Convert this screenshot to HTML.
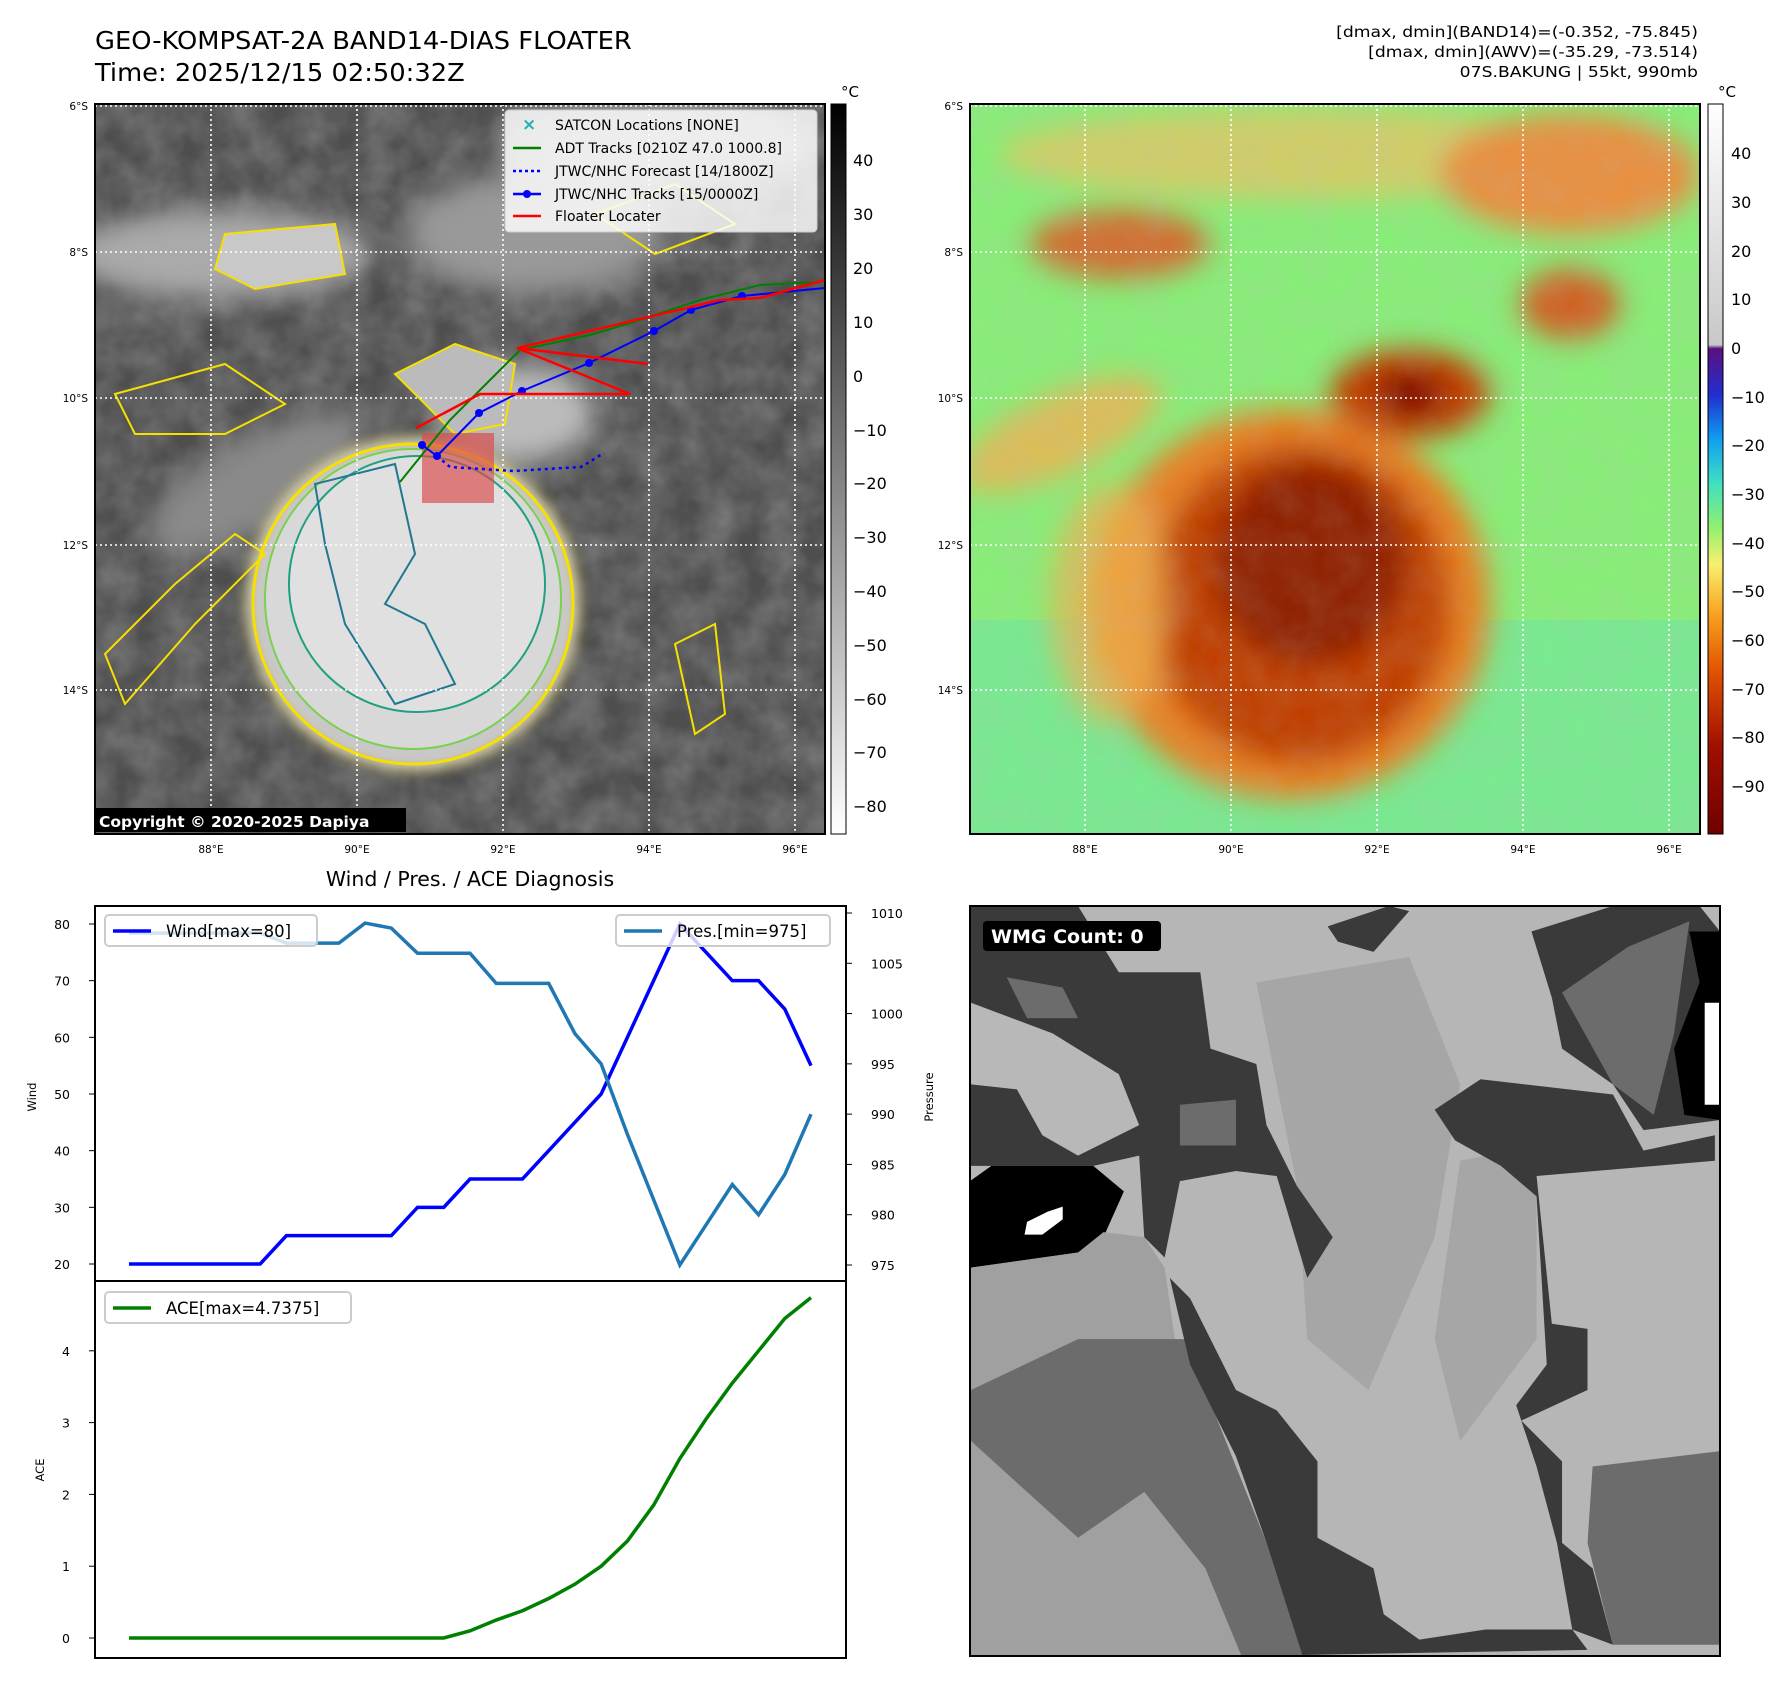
<!DOCTYPE html>
<html><head><meta charset="utf-8">
<style>
html,body{margin:0;padding:0;background:#fff;}
body{width:1788px;height:1693px;position:relative;overflow:hidden;font-family:"DejaVu Sans","Liberation Sans",sans-serif;}
svg text{font-family:"DejaVu Sans","Liberation Sans",sans-serif;}
.t{position:absolute;white-space:nowrap;color:#000;}
</style></head><body>
<div class="t" style="left:95px;top:25px;font-size:25px;line-height:32px;transform:scaleX(1.03);transform-origin:left top;">GEO-KOMPSAT-2A BAND14-DIAS FLOATER<br>Time: 2025/12/15 02:50:32Z</div>
<div class="t" style="right:90px;top:22px;font-size:15.5px;line-height:20px;text-align:right;transform:scaleX(1.11);transform-origin:right top;">[dmax, dmin](BAND14)=(-0.352, -75.845)<br>[dmax, dmin](AWV)=(-35.29, -73.514)<br>07S.BAKUNG | 55kt, 990mb</div>

<svg width="1788" height="1693" style="position:absolute;left:0;top:0" xmlns="http://www.w3.org/2000/svg">
<defs>
<filter id="bl" x="-30%" y="-30%" width="160%" height="160%"><feGaussianBlur stdDeviation="14"/></filter>
<filter id="bl2" x="-30%" y="-30%" width="160%" height="160%"><feGaussianBlur stdDeviation="6"/></filter>
<filter id="tx"><feTurbulence type="fractalNoise" baseFrequency="0.03" numOctaves="3" seed="4"/><feColorMatrix type="matrix" values="0 0 0 0 0.5  0 0 0 0 0.5  0 0 0 0 0.5  0 0 0 0.9 -0.2"/></filter>
<linearGradient id="cbg" x1="0" y1="0" x2="0" y2="1"><stop offset="0" stop-color="#000"/><stop offset="1" stop-color="#fff"/></linearGradient>
<linearGradient id="cbc" x1="0" y1="0" x2="0" y2="1">
<stop offset="0" stop-color="#fff"/><stop offset="0.33" stop-color="#c8c8c8"/><stop offset="0.335" stop-color="#5a1080"/>
<stop offset="0.40" stop-color="#2030d0"/><stop offset="0.46" stop-color="#10a0f0"/><stop offset="0.52" stop-color="#40e0c0"/>
<stop offset="0.58" stop-color="#90f070"/><stop offset="0.63" stop-color="#f8f070"/><stop offset="0.70" stop-color="#f8a020"/>
<stop offset="0.78" stop-color="#e05000"/><stop offset="0.88" stop-color="#a01000"/><stop offset="1" stop-color="#700000"/></linearGradient>
<clipPath id="c1"><rect x="95" y="104" width="730" height="730"/></clipPath>
<clipPath id="c2"><rect x="970" y="104" width="730" height="730"/></clipPath>
<clipPath id="c3"><rect x="970" y="906" width="750" height="750"/></clipPath>
</defs>

<!-- LEFT MAP -->
<g clip-path="url(#c1)">
<rect x="95" y="104" width="730" height="730" fill="#4e4e4e"/>
<rect x="95" y="104" width="730" height="730" filter="url(#tx)" opacity="0.6"/>
<g transform="translate(95,104)" filter="url(#bl)">
<ellipse cx="125" cy="150" rx="150" ry="45" fill="#aaa"/>
<ellipse cx="440" cy="130" rx="130" ry="60" fill="#999"/>
<ellipse cx="560" cy="40" rx="160" ry="50" fill="#999"/>
<ellipse cx="160" cy="380" rx="120" ry="45" fill="#8a8a8a" transform="rotate(-30 160 380)"/>
<ellipse cx="420" cy="310" rx="80" ry="50" fill="#bbb"/>
</g>
<g transform="translate(95,104)">
<ellipse cx="318" cy="500" rx="165" ry="165" fill="#c8c8c8" stroke="#f5e000" stroke-width="3" filter="url(#bl2)"/>
<ellipse cx="318" cy="500" rx="160" ry="160" fill="none" stroke="#f5e000" stroke-width="3"/>
<ellipse cx="318" cy="495" rx="148" ry="150" fill="#d8d8d8" stroke="#7ad050" stroke-width="2"/>
<ellipse cx="322" cy="480" rx="128" ry="128" fill="#e0e0e0" stroke="#20a080" stroke-width="2"/>
<path d="M220,380 L300,360 L320,450 L290,500 L330,520 L360,580 L300,600 L250,520 L230,440Z" fill="none" stroke="#207890" stroke-width="2"/>
<path d="M130,130 L240,120 L250,170 L160,185 L120,165Z" fill="#c8c8c8" stroke="#f5e000" stroke-width="2"/>
<path d="M10,550 L80,480 L140,430 L170,450 L100,520 L30,600Z" fill="none" stroke="#f5e000" stroke-width="2"/>
<path d="M20,290 L130,260 L190,300 L130,330 L40,330Z" fill="none" stroke="#f5e000" stroke-width="2"/>
<path d="M300,270 L360,240 L420,260 L410,320 L360,330Z" fill="#bbb" stroke="#f5e000" stroke-width="2"/>
<path d="M500,110 L580,80 L640,120 L560,150Z" fill="none" stroke="#f5e000" stroke-width="2"/>
<path d="M580,540 L620,520 L630,610 L600,630Z" fill="none" stroke="#f5e000" stroke-width="2"/>
</g>
<g stroke="#fff" stroke-width="1.6" stroke-dasharray="2,3" fill="none">
<line x1="95" y1="106" x2="825" y2="106"/><line x1="95" y1="252" x2="825" y2="252"/><line x1="95" y1="398" x2="825" y2="398"/><line x1="95" y1="545" x2="825" y2="545"/><line x1="95" y1="690" x2="825" y2="690"/>
<line x1="211" y1="104" x2="211" y2="834"/><line x1="357" y1="104" x2="357" y2="834"/><line x1="503" y1="104" x2="503" y2="834"/><line x1="649" y1="104" x2="649" y2="834"/><line x1="795" y1="104" x2="795" y2="834"/>
</g>
<rect x="422" y="433" width="72" height="70" fill="rgba(220,70,70,0.65)"/>
<polyline points="400,482 450,420 520,350 590,335 640,320 700,300 760,285 820,282" fill="none" stroke="#008000" stroke-width="2"/>
<polyline points="437,456 450,467 513,471 581,467 604,453" fill="none" stroke="#0000ff" stroke-width="2.5" stroke-dasharray="3,4"/>
<polyline points="422,445 437,456 479,413 522,391 589,363 654,331 691,310 742,296 825,288" fill="none" stroke="#0000ff" stroke-width="2"/>
<g fill="#0000ff"><circle cx="422" cy="445" r="4"/><circle cx="437" cy="456" r="4"/><circle cx="479" cy="413" r="4"/><circle cx="522" cy="391" r="4"/><circle cx="589" cy="363" r="4"/><circle cx="654" cy="331" r="4"/><circle cx="691" cy="310" r="4"/><circle cx="742" cy="296" r="4"/></g>
<polyline points="416,428 480,394 630,394 517,348 648,364 518,348 720,300 760,298 825,280" fill="none" stroke="#ff0000" stroke-width="2.5"/>
</g>
<rect x="95" y="104" width="730" height="730" fill="none" stroke="#000" stroke-width="2"/>
<g>
<rect x="505" y="110" width="312" height="122" rx="4" fill="rgba(255,255,255,0.82)" stroke="#ccc"/>
<text x="522" y="130" font-size="17" fill="#20b0b0" font-weight="bold">×</text>
<line x1="513" y1="148" x2="541" y2="148" stroke="#008000" stroke-width="2.5"/>
<line x1="513" y1="171" x2="541" y2="171" stroke="#0000ff" stroke-width="2.5" stroke-dasharray="3,3"/>
<line x1="513" y1="194" x2="541" y2="194" stroke="#0000ff" stroke-width="2.5"/><circle cx="527" cy="194" r="4" fill="#0000ff"/>
<line x1="513" y1="216" x2="541" y2="216" stroke="#ff0000" stroke-width="2.5"/>
<g font-size="14" fill="#000">
<text x="555" y="130">SATCON Locations [NONE]</text>
<text x="555" y="153">ADT Tracks [0210Z 47.0 1000.8]</text>
<text x="555" y="176">JTWC/NHC Forecast [14/1800Z]</text>
<text x="555" y="199">JTWC/NHC Tracks [15/0000Z]</text>
<text x="555" y="221">Floater Locater</text></g>
</g>
<rect x="95" y="808" width="311" height="24" fill="#000"/>
<text x="99" y="827" font-size="15.5" font-weight="bold" fill="#fff">Copyright © 2020-2025 Dapiya</text>
<g font-size="10.5" fill="#000">
<text x="88" y="110" text-anchor="end">6°S</text><text x="88" y="256" text-anchor="end">8°S</text><text x="88" y="402" text-anchor="end">10°S</text><text x="88" y="549" text-anchor="end">12°S</text><text x="88" y="694" text-anchor="end">14°S</text>
<text x="211" y="853" text-anchor="middle">88°E</text><text x="357" y="853" text-anchor="middle">90°E</text><text x="503" y="853" text-anchor="middle">92°E</text><text x="649" y="853" text-anchor="middle">94°E</text><text x="795" y="853" text-anchor="middle">96°E</text>
</g>
<rect x="831" y="104" width="15" height="730" fill="url(#cbg)" stroke="#000"/>
<text x="850" y="97" font-size="15" text-anchor="middle">°C</text>
<g font-size="16" fill="#000">
<text x="853" y="166">40</text><text x="853" y="220">30</text><text x="853" y="274">20</text><text x="853" y="328">10</text><text x="853" y="382">0</text><text x="853" y="436">−10</text><text x="853" y="489">−20</text><text x="853" y="543">−30</text><text x="853" y="597">−40</text><text x="853" y="651">−50</text><text x="853" y="705">−60</text><text x="853" y="758">−70</text><text x="853" y="812">−80</text>
</g>

<!-- RIGHT MAP -->
<g clip-path="url(#c2)">
<rect x="970" y="104" width="730" height="730" fill="#88ee78"/>
<rect x="970" y="620" width="730" height="214" fill="#70e8a0" opacity="0.6"/>
<g transform="translate(970,104)" filter="url(#bl)">
<ellipse cx="330" cy="50" rx="300" ry="45" fill="#f0c060" opacity="0.7"/>
<ellipse cx="600" cy="70" rx="130" ry="60" fill="#e89040"/>
<ellipse cx="150" cy="140" rx="90" ry="35" fill="#d07030"/>
<ellipse cx="90" cy="330" rx="110" ry="40" fill="#f0b050" opacity="0.8" transform="rotate(-25 90 330)"/>
<ellipse cx="320" cy="500" rx="200" ry="195" fill="#e88020"/>
<ellipse cx="330" cy="500" rx="150" ry="160" fill="#c04000"/>
<ellipse cx="340" cy="460" rx="95" ry="100" fill="#902000"/>
<ellipse cx="440" cy="290" rx="80" ry="45" fill="#c04000"/>
<ellipse cx="440" cy="290" rx="35" ry="22" fill="#801000"/>
<ellipse cx="600" cy="200" rx="50" ry="35" fill="#d06020"/>
<ellipse cx="140" cy="500" rx="60" ry="120" fill="#f0b050" opacity="0.7"/>
</g>
<rect x="970" y="104" width="730" height="730" filter="url(#tx)" opacity="0.25"/>
<g stroke="#fff" stroke-width="1.6" stroke-dasharray="2,3" fill="none">
<line x1="970" y1="106" x2="1700" y2="106"/><line x1="970" y1="252" x2="1700" y2="252"/><line x1="970" y1="398" x2="1700" y2="398"/><line x1="970" y1="545" x2="1700" y2="545"/><line x1="970" y1="690" x2="1700" y2="690"/>
<line x1="1085" y1="104" x2="1085" y2="834"/><line x1="1231" y1="104" x2="1231" y2="834"/><line x1="1377" y1="104" x2="1377" y2="834"/><line x1="1523" y1="104" x2="1523" y2="834"/><line x1="1669" y1="104" x2="1669" y2="834"/>
</g>
</g>
<rect x="970" y="104" width="730" height="730" fill="none" stroke="#000" stroke-width="2"/>
<g font-size="10.5" fill="#000">
<text x="963" y="110" text-anchor="end">6°S</text><text x="963" y="256" text-anchor="end">8°S</text><text x="963" y="402" text-anchor="end">10°S</text><text x="963" y="549" text-anchor="end">12°S</text><text x="963" y="694" text-anchor="end">14°S</text>
<text x="1085" y="853" text-anchor="middle">88°E</text><text x="1231" y="853" text-anchor="middle">90°E</text><text x="1377" y="853" text-anchor="middle">92°E</text><text x="1523" y="853" text-anchor="middle">94°E</text><text x="1669" y="853" text-anchor="middle">96°E</text>
</g>
<rect x="1708" y="104" width="15" height="730" fill="url(#cbc)" stroke="#000"/>
<text x="1727" y="97" font-size="15" text-anchor="middle">°C</text>
<g font-size="16" fill="#000">
<text x="1731" y="159">40</text><text x="1731" y="208">30</text><text x="1731" y="257">20</text><text x="1731" y="305">10</text><text x="1731" y="354">0</text><text x="1731" y="403">−10</text><text x="1731" y="451">−20</text><text x="1731" y="500">−30</text><text x="1731" y="549">−40</text><text x="1731" y="597">−50</text><text x="1731" y="646">−60</text><text x="1731" y="695">−70</text><text x="1731" y="743">−80</text><text x="1731" y="792">−90</text>
</g>

<!-- WMG PANEL -->
<g clip-path="url(#c3)">
<g transform="translate(970,906) scale(0.5095) translate(-38,-50)">
<rect x="38" y="50" width="1472" height="1472" fill="#b6b6b6"/>
<polygon fill="#a6a6a6" points="600,200 900,150 1000,400 950,700 820,1000 700,900 680,600"/>
<polygon fill="#a6a6a6" points="1000,550 1150,520 1150,900 1000,1100 950,900"/>
<polygon fill="#3a3a3a" points="38,50 250,50 330,180 490,180 510,330 600,360 620,480 680,600 750,700 700,780 640,580 560,570 450,590 420,740 380,700 370,540 280,560 40,560"/>
<polygon fill="#b8b8b8" points="40,240 200,300 330,380 370,480 250,540 180,500 130,410 40,400"/>
<polygon fill="#6c6c6c" points="110,190 220,210 250,270 150,270"/>
<polygon fill="#6c6c6c" points="450,440 560,430 560,520 450,520"/>
<polygon fill="#000" points="38,590 80,560 280,560 340,610 300,700 250,730 38,760"/>
<polygon fill="#fff" points="150,670 190,650 220,640 220,665 180,695 145,695"/>
<polygon fill="#a0a0a0" points="38,760 250,730 300,690 380,700 420,760 440,900 480,1000 560,1150 600,1250 640,1400 690,1520 38,1520"/>
<polygon fill="#6c6c6c" points="40,1000 250,900 460,900 560,1150 620,1300 690,1520 570,1520 500,1350 380,1200 250,1290 150,1200 40,1100"/>
<polygon fill="#3a3a3a" points="430,780 470,820 560,1000 640,1040 720,1140 720,1290 830,1350 850,1440 920,1490 1050,1470 1220,1470 1250,1510 690,1520 620,1300 560,1130 470,950"/>
<polygon fill="#3a3a3a" points="1040,390 1300,420 1360,530 1500,500 1500,550 1150,580 1180,870 1250,880 1250,1000 1120,1060 1200,1140 1200,1300 1260,1350 1300,1500 1220,1470 1190,1300 1150,1150 1110,1030 1170,950 1150,620 1080,560 990,510 950,450"/>
<polygon fill="#3a3a3a" points="1140,100 1300,50 1470,50 1510,100 1510,470 1360,490 1300,400 1200,330 1180,230"/>
<polygon fill="#6c6c6c" points="1200,220 1330,130 1450,80 1420,300 1380,460 1300,400"/>
<polygon fill="#000" points="1450,100 1510,100 1510,470 1440,460 1420,330 1470,200"/>
<polygon fill="#fff" points="1480,240 1510,240 1510,440 1480,440"/>
<polygon fill="#3a3a3a" points="740,90 860,50 900,60 830,140 760,120"/>
<polygon fill="#6c6c6c" points="1260,1150 1510,1120 1510,1500 1300,1500 1250,1300"/>
</g>
</g>
<rect x="970" y="906" width="750" height="750" fill="none" stroke="#000" stroke-width="2"/>
<rect x="983" y="921" width="178" height="30" rx="4" fill="#000"/>
<text x="991" y="943" font-size="19" font-weight="bold" fill="#fff">WMG Count: 0</text>

<!-- CHART -->
<text x="470" y="886" font-size="20.5" text-anchor="middle">Wind / Pres. / ACE Diagnosis</text>
<g id="chart"></g>
</svg>

<script>
const idx = [0,1,2,3,4,5,6,7,8,9,10,11,12,13,14,15,16,17,18,19,20,21,22,23,24,25,26];
const windVals = [20,20,20,20,20,20,25,25,25,25,25,30,30,35,35,35,40,45,50,60,70,80,75,70,70,65,55];
const presVals = [1008,1008,1008,1008,1008,1008,1007,1007,1007,1009,1008.5,1006,1006,1006,1003,1003,1003,998,995,988,981.5,975,979,983,980,984,990];
const aceVals = [0,0,0,0,0,0,0,0,0,0,0,0,0,0.1,0.25,0.38,0.55,0.75,1.0,1.35,1.85,2.5,3.05,3.55,4.0,4.45,4.74];
const windTicks = [20,30,40,50,60,70,80];
const presTicks = [975,980,985,990,995,1000,1005,1010];
const aceTicks = [0,1,2,3,4];

const NS='http://www.w3.org/2000/svg';
const g=document.getElementById('chart');
function mk(tag,attrs,parent){const e=document.createElementNS(NS,tag);for(const k in attrs)e.setAttribute(k,attrs[k]);(parent||g).appendChild(e);return e;}
const xS=i=>129+i*(811-129)/26;
const yW=w=>1264-(w-20)*(340/60);
const yP=p=>1265-(p-975)*(352/35);
const yA=a=>1638-a*71.8;

const f1=mk('rect',{x:95,y:906,width:751,height:375,fill:'none',stroke:'#000','stroke-width':2});


const f2=mk('rect',{x:95,y:1281,width:751,height:377,fill:'none',stroke:'#000','stroke-width':2});



windTicks.forEach(t=>{const y=yW(t);mk('line',{x1:89,y1:y,x2:95,y2:y,stroke:'#000'});
 const tx=mk('text',{x:70,y:y+5,'font-size':12.5,'text-anchor':'end'});tx.textContent=t;
 
 });
presTicks.forEach(t=>{const y=yP(t);mk('line',{x1:846,y1:y,x2:852,y2:y,stroke:'#000'});
 const tx=mk('text',{x:871,y:y+5,'font-size':12.5});tx.textContent=t;
 
 });
aceTicks.forEach(t=>{const y=yA(t);mk('line',{x1:89,y1:y,x2:95,y2:y,stroke:'#000'});
 const tx=mk('text',{x:70,y:y+5,'font-size':12.5,'text-anchor':'end'});tx.textContent=t;
 
 });

const yl1=mk('text',{x:36,y:1097,'font-size':11.5,'text-anchor':'middle',transform:'rotate(-90 36 1097)'});yl1.textContent='Wind';


const yl2=mk('text',{x:933,y:1097,'font-size':11.5,'text-anchor':'middle',transform:'rotate(-90 933 1097)'});yl2.textContent='Pressure';


const yl3=mk('text',{x:44,y:1470,'font-size':11.5,'text-anchor':'middle',transform:'rotate(-90 44 1470)'});yl3.textContent='ACE';



const wl=mk('polyline',{points:idx.map(i=>xS(i)+','+yW(windVals[i])).join(' '),fill:'none',stroke:'#0000ff','stroke-width':3.5});


const pl=mk('polyline',{points:idx.map(i=>xS(i)+','+yP(presVals[i])).join(' '),fill:'none',stroke:'#1f77b4','stroke-width':3.5});


const al=mk('polyline',{points:idx.map(i=>xS(i)+','+yA(aceVals[i])).join(' '),fill:'none',stroke:'#008000','stroke-width':3.5});



function legend(name,x,y,w,color,label){
 const lg=mk('g',{});
 
 
 mk('rect',{x:x,y:y,width:w,height:31,rx:4,fill:'rgba(255,255,255,0.8)',stroke:'#ccc','stroke-width':2},lg);
 mk('line',{x1:x+8,y1:y+16,x2:x+46,y2:y+16,stroke:color,'stroke-width':3.5},lg);
 const t=mk('text',{x:x+61,y:y+22,'font-size':16.5},lg);t.textContent=label;
}
legend('wind-legend',105,915,212,'#0000ff','Wind[max=80]');
legend('pressure-legend',616,915,214,'#1f77b4','Pres.[min=975]');
legend('ace-legend',105,1292,246,'#008000','ACE[max=4.7375]');
</script>
</body></html>
